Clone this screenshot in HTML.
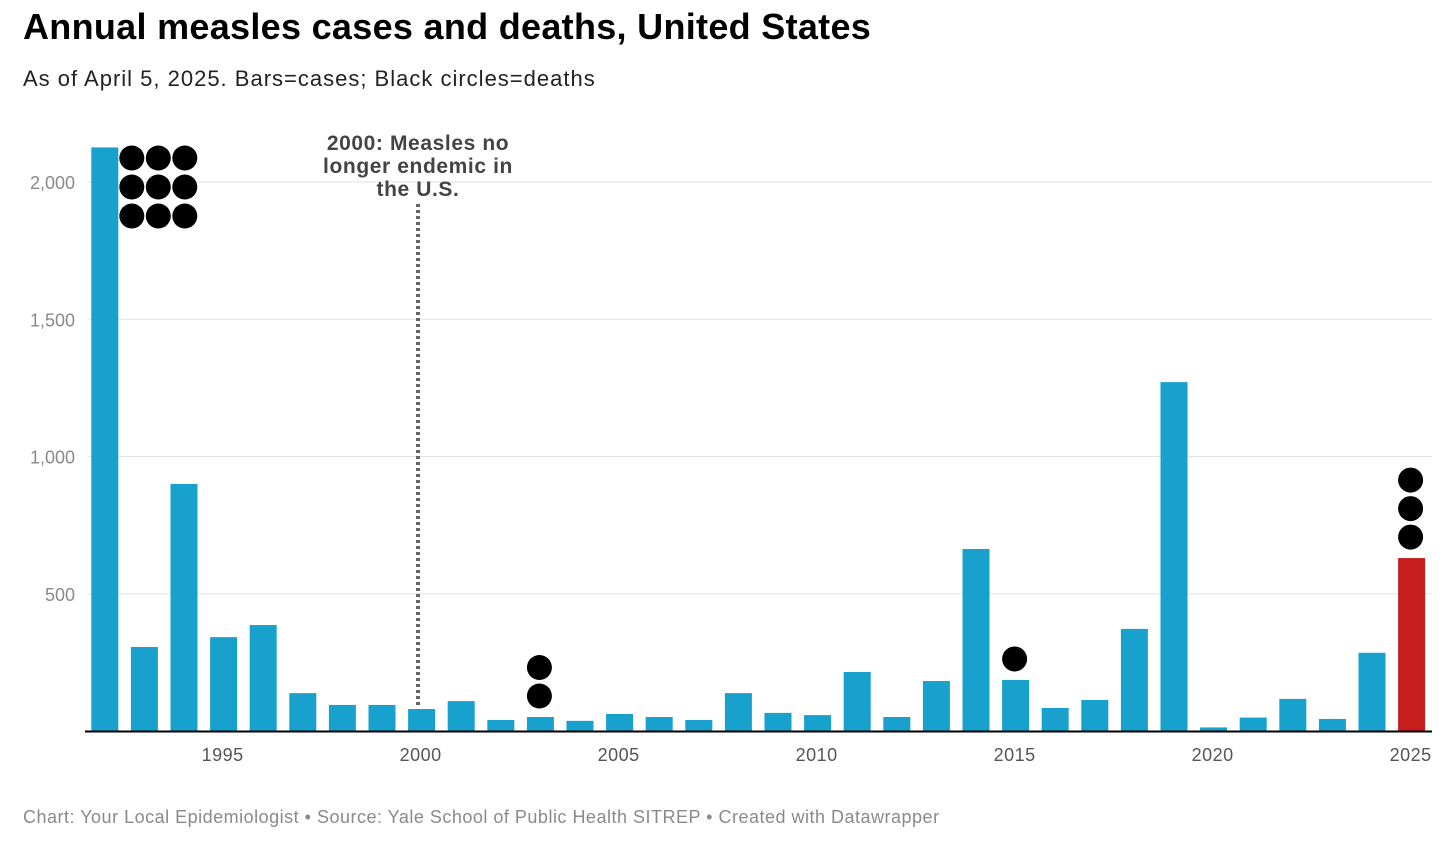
<!DOCTYPE html>
<html><head><meta charset="utf-8"><style>
body{margin:0;width:1456px;height:843px;background:#fff;font-family:"Liberation Sans",sans-serif;overflow:hidden}
#t{position:absolute;left:23px;top:6px;font-size:36px;font-weight:bold;color:#000;letter-spacing:0.3px}
#s{position:absolute;left:23px;top:66px;font-size:22px;color:#222;letter-spacing:1px}
#f{position:absolute;left:23px;top:807px;font-size:18px;color:#8a8a8a;letter-spacing:0.5px}
svg{position:absolute;left:0;top:0}
</style></head><body>
<div id="t">Annual measles cases and deaths, United States</div>
<div id="s">As of April 5, 2025. Bars=cases; Black circles=deaths</div>
<div id="f">Chart: Your Local Epidemiologist • Source: Yale School of Public Health SITREP • Created with Datawrapper</div>
<svg id="c" width="1456" height="843"></svg>
<script>
const years=[1992,1993,1994,1995,1996,1997,1998,1999,2000,2001,2002,2003,2004,2005,2006,2007,2008,2009,2010,2011,2012,2013,2014,2015,2016,2017,2018,2019,2020,2021,2022,2023,2024,2025];
const cases=[2126,306,900,342,386,138,95,95,80,109,40,51,37,62,51,40,138,66,58,215,51,182,663,186,84,113,372,1271,13,49,117,44,285,630];
const deaths=[9,0,0,0,0,0,0,0,0,0,0,2,0,0,0,0,0,0,0,0,0,0,0,1,0,0,0,0,0,0,0,0,0,3];
const yTicks=[500,1000,1500,2000];
const xTicks=[1995,2000,2005,2010,2015,2020,2025];
const NS="http://www.w3.org/2000/svg";
const svg=document.getElementById('c');
const y=v=>731-v*0.2745;
const x=yr=>104.8+(yr-1992)*39.6;
function mk(tag,a){const e=document.createElementNS(NS,tag);for(const k in a)e.setAttribute(k,a[k]);svg.appendChild(e);return e;}
yTicks.forEach(v=>{
 const l=mk('line',{x1:88,x2:1432,y1:y(v),y2:y(v),stroke:'#e2e2e2','stroke-width':1});
 
 
 const t=mk('text',{x:75,y:y(v)+7,'text-anchor':'end','font-size':18,fill:'#8a8a8a'});
 t.textContent=v.toLocaleString('en-US');
 
 
});
years.forEach((yr,i)=>{
 const b=mk('rect',{x:x(yr)-13.5,y:y(cases[i]),width:27,height:731-y(cases[i]),fill:yr===2025?'#c71e1d':'#18a1cd'});
 
 
 const d=deaths[i];
 for(let k=0;k<d;k++){
  let cx,cy;
  if(d>3){cx=x(yr)+27+(k%3)*26.5;cy=158+Math.floor(k/3)*29;}
  else{cx=x(yr)-1;cy=y(cases[i])-21-k*28.5;}
  const c=mk('circle',{cx:cx,cy:cy,r:12.5,fill:'#000'});
  
  
 }
});
const ax=mk('line',{x1:85,x2:1432,y1:731.5,y2:731.5,stroke:'#000','stroke-width':2});


xTicks.forEach(yr=>{
 const t=mk('text',{x:x(yr)-1,y:761,'text-anchor':'middle','font-size':18,fill:'#555','letter-spacing':'0.5'});
 t.textContent=yr;
 
 
});
const al=mk('line',{x1:418,x2:418,y1:204,y2:706,stroke:'#666','stroke-width':4,'stroke-dasharray':'3 3'});


["2000: Measles no","longer endemic in","the U.S."].forEach((s,i)=>{
 const t=mk('text',{x:418,y:150+i*23,'text-anchor':'middle','font-size':21,'font-weight':'bold',fill:'#444','letter-spacing':'0.6'});
 t.textContent=s;
 
 
});
</script>
</body></html>
